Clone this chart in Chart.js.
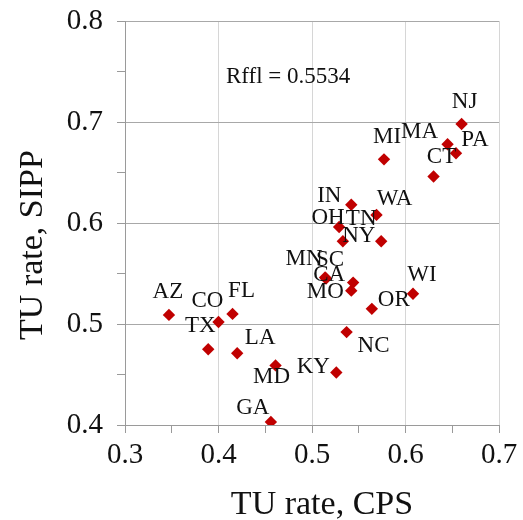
<!DOCTYPE html>
<html><head><meta charset="utf-8">
<script src="https://cdn.jsdelivr.net/npm/chart.js@4/dist/chart.umd.min.js"></script>
<style>html,body{margin:0;padding:0;background:#fff}canvas{display:block}</style>
</head><body>
<canvas id="c" width="523" height="520"></canvas>
<script>
// ---- data ----
const states   = ['NJ','MA','PA','MI','CT','IN','WA','OH','TN','NY','MN','SC','CA','MO','WI','OR','AZ','FL','CO','TX','LA','MD','KY','NC','GA'];
const cpsRate  = [0.660,0.645,0.654,0.577,0.630,0.542,0.569,0.529,0.574,0.533,0.514,0.515,0.544,0.542,0.608,0.564,0.347,0.415,0.400,0.389,0.420,0.461,0.526,0.537,0.456];
const sippRate = [0.698,0.678,0.669,0.663,0.646,0.618,0.608,0.596,0.582,0.582,0.546,0.545,0.541,0.533,0.530,0.515,0.509,0.510,0.502,0.475,0.471,0.459,0.452,0.492,0.403];
const xTickValues = [0.3,0.4,0.5,0.6,0.7];
const xTickLabels = ['0.3','0.4','0.5','0.6','0.7'];
const yTickValues = [0.4,0.5,0.6,0.7,0.8];
const yTickLabels = ['0.4','0.5','0.6','0.7','0.8'];
const xTitle = 'TU rate, CPS';
const yTitle = 'TU rate, SIPP';
const corrText = 'Rffl = 0.5534';

// ---- style ----
const labelOffsets = {
  NJ:[3,-24], MA:[-28,-14], PA:[19,-15], MI:[3,-24], CT:[8,-21], IN:[-22,-10], WA:[18,-17],
  OH:[-11,-11], TN:[-20,-24], NY:[16,-7], MN:[-21,-20], SC:[4,-20], CA:[-24,-9], MO:[-26,0],
  WI:[9,-20], OR:[22,-10], AZ:[-1,-24], FL:[9,-24], CO:[-11,-22], TX:[-8,-25], LA:[23,-17],
  MD:[-4,10], KY:[-23,-7], NC:[27,12], GA:[-18,-15]
};
const SERIF = '"Liberation Serif", "Times New Roman", serif';
const TEXT = '#111';
const AXIS = '#9a9a9a';
const HGRID = '#a8a8a8';
const VGRID = '#d6d6d6';
const corrAnchor = {x:0.4745, y:0.7458};

function labelFor(vals, labs, v){
  for(let i=0;i<vals.length;i++) if(Math.abs(vals[i]-v)<1e-6) return labs[i];
  return '';
}
function isMajor(vals, v){ return vals.some(t=>Math.abs(t-v)<1e-6); }

const textPlugin = {
  id:'textPlugin',
  afterDatasetsDraw(chart){
    const ctx = chart.ctx, xs = chart.scales.x, ys = chart.scales.y, ca = chart.chartArea;
    ctx.save();
    ctx.fillStyle = TEXT;
    ctx.textAlign = 'center';
    ctx.textBaseline = 'alphabetic';
    ctx.font = '23px ' + SERIF;
    const meta = chart.getDatasetMeta(0);
    meta.data.forEach((pt,i)=>{
      const off = labelOffsets[states[i]] || [0,-20];
      ctx.fillText(states[i], pt.x + off[0], pt.y + off[1] + 7.5);
    });
    ctx.font = '23px ' + SERIF;
    ctx.fillText(corrText, xs.getPixelForValue(corrAnchor.x), ys.getPixelForValue(corrAnchor.y) + 7.5);
    // axis titles
    ctx.font = '34px ' + SERIF;
    ctx.fillText(xTitle, (ca.left+ca.right)/2 + 10, ca.bottom + 89);
    ctx.translate(ca.left - 83.5, (ca.top+ca.bottom)/2 + 22);
    ctx.rotate(-Math.PI/2);
    ctx.fillText(yTitle, 0, 0);
    ctx.restore();
  }
};

new Chart(document.getElementById('c'), {
  type:'scatter',
  data:{
    datasets:[{
      data: states.map((s,i)=>({x:cpsRate[i], y:sippRate[i]})),
      pointStyle:'rectRot',
      pointRadius:6.2,
      pointHoverRadius:6.2,
      backgroundColor:'#c00000',
      borderColor:'#c00000',
      borderWidth:0
    }]
  },
  options:{
    responsive:false,
    animation:false,
    events:[],
    layout:{padding:{top:21,right:24,bottom:0,left:0}},
    plugins:{legend:{display:false}, tooltip:{enabled:false}},
    scales:{
      x:{
        type:'linear', min:0.3, max:0.7,
        afterFit(s){ s.height = 95; s.paddingLeft = 0; s.paddingRight = 0; },
        ticks:{stepSize:0.05, padding:5, color:TEXT, font:{family:SERIF, size:29},
          callback:(v)=>labelFor(xTickValues, xTickLabels, v), maxRotation:0, autoSkip:false},
        grid:{
          color:(c)=> (c.tick && isMajor(xTickValues, c.tick.value) && c.tick.value>0.31) ? VGRID : 'rgba(0,0,0,0)',
          tickColor:AXIS, tickLength:8, lineWidth:1
        },
        border:{color:AXIS, width:1}
      },
      y:{
        type:'linear', min:0.4, max:0.8,
        afterFit(s){ s.width = 125; s.paddingTop = 0; s.paddingBottom = 0; },
        ticks:{stepSize:0.05, padding:14, color:TEXT, font:{family:SERIF, size:29},
          callback:(v)=>labelFor(yTickValues, yTickLabels, v), autoSkip:false},
        grid:{
          color:(c)=> (c.tick && isMajor(yTickValues, c.tick.value) && c.tick.value>0.41) ? HGRID : 'rgba(0,0,0,0)',
          tickColor:AXIS, tickLength:8, lineWidth:1
        },
        border:{color:AXIS, width:1}
      }
    }
  },
  plugins:[textPlugin]
});
</script>
</body></html>
